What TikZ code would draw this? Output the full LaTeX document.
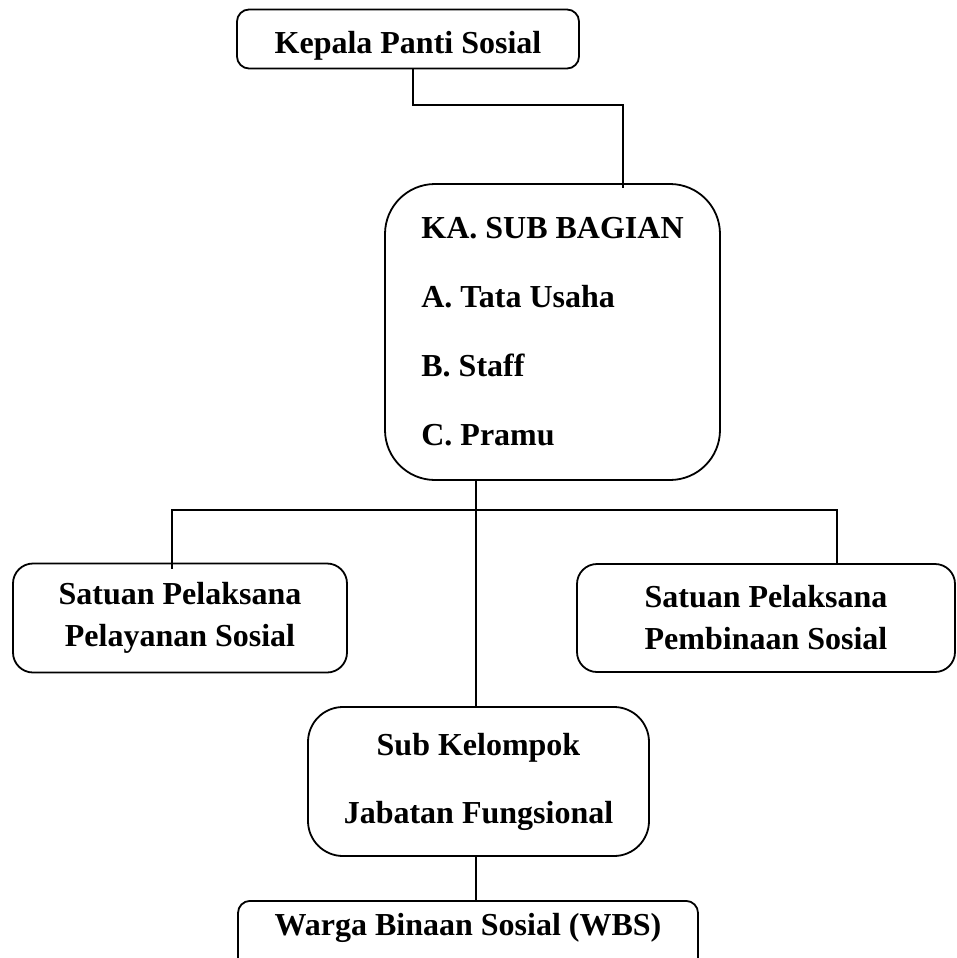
\documentclass[tikz,border=0pt]{standalone}
\usepackage{fontspec}
\setmainfont{Liberation Serif}
\begin{document}
\begin{tikzpicture}[x=1pt,y=-1pt,
  box/.style={draw=black,line width=1.8pt,rectangle,inner sep=0pt,align=center,
    font=\fontsize{32}{42}\selectfont\bfseries},
  link/.style={draw=black,line width=1.8pt}]
\useasboundingbox (0,0) rectangle (956,958);
\clip (0,0) rectangle (956,958);
% boxes
\node[box,rounded corners=12pt,minimum width=342pt,minimum height=59pt,
  text height=29pt,text depth=0pt] (top) at (408,39) {Kepala Panti Sosial};
\node[box,rounded corners=50pt,minimum width=335pt,minimum height=296pt,
  align=left,font=\fontsize{32}{69}\selectfont\bfseries] (ka) at (552.5,332)
  {KA. SUB BAGIAN\\A. Tata Usaha\\B. Staff\\C. Pramu};
\node[box,rounded corners=20pt,minimum width=334pt,minimum height=109pt] (left) at (180,618)
  {Satuan Pelaksana\\Pelayanan Sosial};
\node[box,rounded corners=20pt,minimum width=378pt,minimum height=108pt] (right) at (766,618)
  {Satuan Pelaksana\\Pembinaan Sosial};
\node[box,rounded corners=35pt,minimum width=341pt,minimum height=149pt,
  font=\fontsize{32}{68}\selectfont\bfseries] (sub) at (478.5,781.5)
  {Sub Kelompok\\Jabatan Fungsional};
\node[box,rounded corners=12pt,anchor=north,minimum width=460pt,text height=24pt,text depth=50pt,
  inner ysep=11pt] (wbs) at (468,900) {Warga Binaan Sosial (WBS)};
% junction coordinates
\coordinate (j1) at (413,105);
\coordinate (j2) at (623,105);
\coordinate (trunk) at (476,0);
\coordinate (b1) at (172,510);
\coordinate (b2) at (837,510);
% connectors
\draw[link] (j1 |- top.south) -- (j1) -- (j2) -- ([yshift=-5pt]j2 |- ka.north);
\draw[link] (trunk |- ka.south) -- (trunk |- sub.north);
\draw[link] ([yshift=-6pt]b1 |- left.north) -- (b1) -- (b2) -- ([yshift=-2pt]b2 |- right.north);
\draw[link] (trunk |- sub.south) -- (trunk |- wbs.north);
\end{tikzpicture}
\end{document}
